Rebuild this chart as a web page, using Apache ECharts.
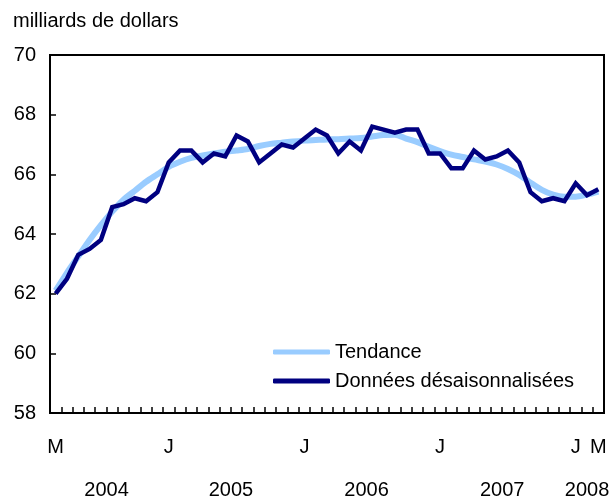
<!DOCTYPE html>
<html>
<head>
<meta charset="utf-8">
<script src="https://cdn.jsdelivr.net/npm/echarts@6/dist/echarts.min.js"></script>
<style>
html,body{margin:0;padding:0;background:#fff;}
#chart{width:611px;height:500px;}
</style>
</head>
<body>
<div id="chart"></div>
<script>
// Month initials (French), March 2004 to March 2008
var monthLetters = ['M','A','M','J','J','A','S','O','N','D',
  'J','F','M','A','M','J','J','A','S','O','N','D',
  'J','F','M','A','M','J','J','A','S','O','N','D',
  'J','F','M','A','M','J','J','A','S','O','N','D',
  'J','F','M'];
// Indices of category labels shown on the axis
var shownLabelIdx = [0, 10, 22, 34, 46, 48];
// Year labels and their index spans
var yearLabels = ['2004','2005','2006','2007','2008'];
var yearStart  = [0, 10, 22, 34, 46];
var yearEnd    = [9, 21, 33, 45, 48];

var trend = [62.1,62.7,63.25,63.8,64.3,64.75,65.15,65.45,65.75,66.0,
  66.25,66.42,66.55,66.63,66.7,66.76,66.8,66.85,66.95,67.02,67.06,67.1,
  67.13,67.15,67.17,67.18,67.2,67.22,67.27,67.32,67.33,67.2,67.08,66.92,
  66.78,66.66,66.58,66.5,66.43,66.33,66.18,65.98,65.72,65.48,65.32,65.25,
  65.25,65.32,65.42];
var seasonal = [62.0,62.5,63.3,63.5,63.8,64.9,65.0,65.2,65.1,65.4,
  66.4,66.8,66.8,66.4,66.7,66.6,67.3,67.1,66.4,66.7,67.0,66.9,
  67.2,67.5,67.3,66.7,67.1,66.8,67.6,67.5,67.4,67.5,67.5,66.7,
  66.7,66.2,66.2,66.8,66.5,66.6,66.8,66.4,65.4,65.1,65.2,65.1,
  65.7,65.3,65.5];
var yTicks = {min: 58, max: 70, interval: 2};
var unitLabel = 'milliards de dollars';
var seriesNames = ['Tendance', 'Données désaisonnalisées'];

var FONT = '"Liberation Sans", Arial, Helvetica, sans-serif';
var FS = 20;
var chart = echarts.init(document.getElementById('chart'), null, {renderer: 'canvas'});
chart.setOption({
  animation: false,
  backgroundColor: '#ffffff',
  textStyle: {fontFamily: FONT},
  title: {
    text: unitLabel, left: 13, top: 11, padding: 0,
    textStyle: {fontFamily: FONT, fontSize: FS, fontWeight: 'normal', color: '#000'}
  },
  grid: {
    left: 50, top: 55, right: 7, bottom: 87,
    show: true, borderColor: '#000', borderWidth: 2, backgroundColor: 'transparent'
  },
  legend: {
    orient: 'vertical', left: 273, top: 342, itemGap: 9, padding: 0,
    itemWidth: 57, itemHeight: 5, icon: 'roundRect',
    textStyle: {fontFamily: FONT, fontSize: FS, color: '#000'},
    data: seriesNames
  },
  xAxis: {
    type: 'category', data: monthLetters, boundaryGap: true,
    axisLine: {lineStyle: {color: '#000', width: 2}},
    axisTick: {show: true, inside: true, length: 6, interval: 0, lineStyle: {color: '#000', width: 1.5}},
    axisLabel: {
      interval: function (i) { return shownLabelIdx.indexOf(i) >= 0; },
      margin: 24, color: '#000', fontSize: FS, fontFamily: FONT
    },
    splitLine: {show: false}
  },
  yAxis: {
    type: 'value', min: yTicks.min, max: yTicks.max, interval: yTicks.interval,
    axisLine: {show: true, lineStyle: {color: '#000', width: 2}},
    axisTick: {show: true, inside: true, length: 6, lineStyle: {color: '#000', width: 1.5}},
    axisLabel: {margin: 14, color: '#000', fontSize: FS, fontFamily: FONT},
    splitLine: {show: false}
  },
  series: [
    {name: seriesNames[0], type: 'line', data: trend, showSymbol: false, symbol: 'none',
     smooth: 0.3, lineStyle: {color: '#99CCFF', width: 6}, itemStyle: {color: '#99CCFF'}, z: 2},
    {name: seriesNames[1], type: 'line', data: seasonal, showSymbol: false, symbol: 'none',
     lineStyle: {color: '#000080', width: 4.5, join: 'miter'}, itemStyle: {color: '#000080'}, z: 3}
  ]
});

var g = [];
for (var k = 0; k < yearLabels.length; k++) {
  var x0 = chart.convertToPixel({xAxisIndex: 0}, yearStart[k]);
  var x1 = chart.convertToPixel({xAxisIndex: 0}, yearEnd[k]);
  g.push({
    type: 'text', x: (x0 + x1) / 2, y: 490,
    style: {text: yearLabels[k], fill: '#000', font: FS + 'px ' + FONT, align: 'center', verticalAlign: 'middle'}
  });
}
chart.setOption({graphic: g});
</script>
</body>
</html>
